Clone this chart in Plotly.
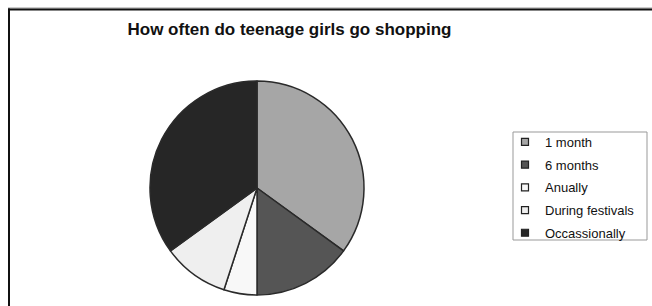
import plotly.graph_objects as go

categories = ["1 month", "6 months", "Anually", "During festivals", "Occassionally"]
values = [35, 15, 5, 10, 35]
colors = ["#a6a6a6", "#555555", "#f8f8f8", "#efefef", "#262626"]
title_text = "How often do teenage girls go shopping"

W, H = 652, 306

cx, cy, r = 257, 188, 107  # pie centre / radius in pixels

fig = go.Figure()

fig.add_trace(go.Pie(
    labels=categories,
    values=values,
    sort=False,
    direction="clockwise",
    rotation=0,
    textinfo="none",
    hoverinfo="label+value",
    marker=dict(colors=colors, line=dict(color="#2a2a2a", width=1.5)),
    domain=dict(x=[(cx - r) / W, (cx + r) / W],
                y=[1 - (cy + r) / H, 1 - (cy - r) / H]),
    showlegend=False,
))

# legend entries (small square swatches, as in the original)
for i, (name, col) in enumerate(zip(categories, colors)):
    fig.add_trace(go.Scatter(
        x=[None], y=[None], mode="markers", name=name,
        legendgroup=f"g{i}",
        marker=dict(symbol="square", size=7, color=col,
                    line=dict(color="#222222", width=1.2)),
    ))

fig.update_layout(
    width=W, height=H,
    margin=dict(l=0, r=0, t=0, b=0),
    paper_bgcolor="white",
    plot_bgcolor="white",
    xaxis=dict(visible=False),
    yaxis=dict(visible=False),
    title=dict(text=title_text, x=289.5 / W, xanchor="center",
               y=1 - 29 / H, yanchor="middle",
               font=dict(family="Liberation Sans, Arial", size=17,
                         color="#111111", weight="bold")),
    legend=dict(x=505 / W, y=1 - 127 / H, xanchor="left", yanchor="top",
                bgcolor="rgba(0,0,0,0)", borderwidth=0,
                tracegroupgap=2.8, itemwidth=30,
                font=dict(family="Liberation Sans, Arial", size=13, color="#111111")),
    shapes=[
        # outer frame: grey + black top edge, black left edge
        dict(type="line", xref="paper", yref="paper",
             x0=8 / W, x1=1, y0=1 - 8 / H, y1=1 - 8 / H,
             line=dict(color="#999999", width=1)),
        dict(type="line", xref="paper", yref="paper",
             x0=8 / W, x1=1, y0=1 - 9.5 / H, y1=1 - 9.5 / H,
             line=dict(color="#111111", width=2)),
        dict(type="line", xref="paper", yref="paper",
             x0=9 / W, x1=9 / W, y0=0, y1=1 - 8.5 / H,
             line=dict(color="#111111", width=2)),
        # legend frame
        dict(type="rect", xref="paper", yref="paper",
             x0=513 / W, x1=647 / W, y0=1 - 240 / H, y1=1 - 132 / H,
             line=dict(color="#999999", width=1),
             fillcolor="white", layer="below"),
    ],
)

fig.write_html(
    "out.html",
    config={"displayModeBar": False},
    post_script=(
        "document.documentElement.style.overflow='hidden';"
        "document.body.style.margin='0';"
        "document.body.style.overflow='hidden';"
    ),
)
